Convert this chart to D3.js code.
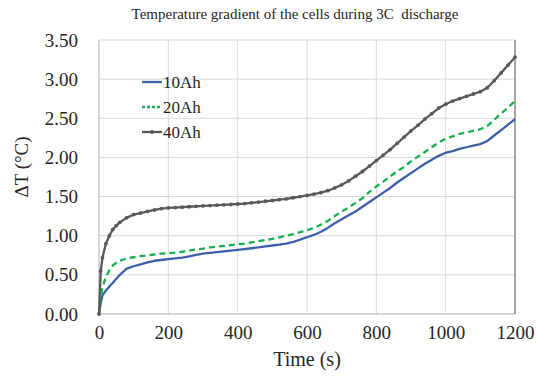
<!DOCTYPE html>
<html>
<head>
<meta charset="utf-8">
<script src="https://cdn.jsdelivr.net/npm/d3@7"></script>
<style>
  html, body { margin: 0; padding: 0; background: #fff; }
  svg { display: block; }
  text { font-family: "Liberation Serif", "DejaVu Serif", serif; fill: #262626; }
</style>
</head>
<body>
<svg id="chart" width="536" height="381"></svg>
<script>
// Time samples (s) shared by all three series
const times = [0, 5, 10, 20, 30, 40, 50, 60,
  80, 100, 120, 140, 160, 180, 200, 220, 240, 260, 280, 300,
  320, 340, 360, 380, 400, 420, 440, 460, 480, 500,
  520, 540, 560, 580, 600, 620, 640, 660, 680, 700,
  720, 740, 760, 780, 800, 820, 840, 860, 880, 900,
  920, 940, 960, 980, 1000, 1020, 1040, 1060, 1080, 1100,
  1120, 1140, 1160, 1180, 1200];

// Temperature gradient ΔT (°C) per cell capacity
const dT10 = [0, 0.14, 0.24, 0.30, 0.35, 0.40, 0.45, 0.50,
  0.58, 0.61, 0.635, 0.66, 0.68, 0.69, 0.70, 0.71, 0.72, 0.735, 0.755, 0.77,
  0.78, 0.79, 0.80, 0.81, 0.82, 0.83, 0.84, 0.85, 0.865, 0.875,
  0.885, 0.90, 0.92, 0.95, 0.98, 1.01, 1.05, 1.10, 1.16, 1.21,
  1.26, 1.31, 1.37, 1.43, 1.49, 1.55, 1.61, 1.68, 1.74, 1.80,
  1.86, 1.92, 1.97, 2.02, 2.06, 2.08, 2.11, 2.13, 2.15, 2.17,
  2.21, 2.28, 2.35, 2.42, 2.49];

const dT20 = [0, 0.22, 0.34, 0.47, 0.56, 0.62, 0.655, 0.68,
  0.71, 0.725, 0.74, 0.75, 0.76, 0.77, 0.775, 0.785, 0.795, 0.81, 0.825, 0.835,
  0.85, 0.86, 0.87, 0.88, 0.89, 0.90, 0.915, 0.93, 0.945, 0.96,
  0.98, 1.00, 1.02, 1.045, 1.07, 1.10, 1.14, 1.19, 1.25, 1.31,
  1.36, 1.42, 1.48, 1.56, 1.63, 1.69, 1.76, 1.82, 1.88, 1.95,
  2.01, 2.07, 2.13, 2.19, 2.24, 2.27, 2.30, 2.32, 2.34, 2.36,
  2.40, 2.48, 2.56, 2.64, 2.72];

const dT40 = [0, 0.55, 0.72, 0.90, 1.00, 1.08, 1.13, 1.17,
  1.23, 1.27, 1.29, 1.31, 1.33, 1.345, 1.355, 1.36, 1.365, 1.37, 1.375, 1.38,
  1.385, 1.39, 1.395, 1.40, 1.405, 1.41, 1.42, 1.43, 1.44, 1.45,
  1.46, 1.47, 1.485, 1.50, 1.515, 1.53, 1.55, 1.575, 1.61, 1.65,
  1.70, 1.76, 1.82, 1.89, 1.96, 2.03, 2.10, 2.18, 2.26, 2.34,
  2.41, 2.49, 2.56, 2.63, 2.68, 2.72, 2.75, 2.78, 2.81, 2.84,
  2.89, 2.98, 3.08, 3.18, 3.28];

const seriesNames = ["10Ah", "20Ah", "40Ah"];
const xTicks = [0, 200, 400, 600, 800, 1000, 1200];
const yTicks = [0, 0.5, 1.0, 1.5, 2.0, 2.5, 3.0, 3.5];

const series = [
  { name: seriesNames[0], values: dT10, color: "#3d5ea8", dash: null, markers: false },
  { name: seriesNames[1], values: dT20, color: "#16b050", dash: "6,4", markers: false },
  { name: seriesNames[2], values: dT40, color: "#595959", dash: null, markers: true }
];

const svg = d3.select("#chart");
const plot = { left: 99, right: 515, top: 40, bottom: 314 };

const x = d3.scaleLinear().domain([0, 1200]).range([plot.left, plot.right]);
const y = d3.scaleLinear().domain([0, 3.5]).range([plot.bottom, plot.top]);

// Title
svg.append("text")
  .attr("x", 295).attr("y", 19)
  .attr("text-anchor", "middle")
  .style("font-size", "15px")
  .style("white-space", "pre")
  .text("Temperature gradient of the cells during 3C  discharge");

// Gridlines
const grid = svg.append("g");
grid.selectAll("line.h").data(yTicks).join("line")
  .attr("x1", plot.left).attr("x2", plot.right)
  .attr("y1", d => y(d)).attr("y2", d => y(d))
  .attr("stroke", "#d9d9d9").attr("stroke-width", 1);
grid.selectAll("line.v").data(xTicks).join("line")
  .attr("x1", d => x(d)).attr("x2", d => x(d))
  .attr("y1", plot.top).attr("y2", plot.bottom)
  .attr("stroke", "#d9d9d9").attr("stroke-width", 1);

// Plot frame
svg.append("line").attr("x1", plot.left).attr("x2", plot.left)
  .attr("y1", plot.top).attr("y2", plot.bottom).attr("stroke", "#bfbfbf");
svg.append("line").attr("x1", plot.left).attr("x2", plot.right)
  .attr("y1", plot.bottom).attr("y2", plot.bottom).attr("stroke", "#bfbfbf").attr("stroke-width", 1.2);
svg.append("line").attr("x1", plot.right).attr("x2", plot.right)
  .attr("y1", plot.top).attr("y2", plot.bottom).attr("stroke", "#8c8c8c").attr("stroke-width", 1.5);

// Axes
const xAxis = svg.append("g")
  .attr("transform", `translate(0,${plot.bottom})`)
  .call(d3.axisBottom(x).tickValues(xTicks).tickFormat(d3.format("d")).tickSize(0).tickPadding(12));
xAxis.select(".domain").remove();
xAxis.selectAll("text").style("font-size", "19px").style("font-family", "Liberation Serif").attr("fill", "#262626");

const yAxis = svg.append("g")
  .attr("transform", `translate(${plot.left},0)`)
  .call(d3.axisLeft(y).tickValues(yTicks).tickFormat(d3.format(".2f")).tickSize(0).tickPadding(21));
yAxis.select(".domain").remove();
yAxis.selectAll("text").style("font-size", "19px").style("font-family", "Liberation Serif").attr("fill", "#262626");

// Axis titles
svg.append("text")
  .attr("x", 307).attr("y", 366)
  .attr("text-anchor", "middle")
  .style("font-size", "20px")
  .text("Time (s)");
svg.append("text")
  .attr("transform", "translate(28,167) rotate(-90)")
  .attr("text-anchor", "middle")
  .style("font-size", "19px")
  .text("ΔT (°C)");

// Series lines
const line = d3.line()
  .x((d, i) => x(times[i]))
  .y(d => y(d));

series.forEach(s => {
  svg.append("path")
    .datum(s.values)
    .attr("fill", "none")
    .attr("stroke", s.color)
    .attr("stroke-width", 2.3)
    .attr("stroke-linejoin", "round")
    .attr("stroke-dasharray", s.dash)
    .attr("d", line);
  if (s.markers) {
    svg.append("g").selectAll("circle").data(s.values).join("circle")
      .attr("cx", (d, i) => x(times[i]))
      .attr("cy", d => y(d))
      .attr("r", 1.9)
      .attr("fill", s.color);
  }
});

// Legend
const legend = svg.append("g");
series.forEach((s, i) => {
  const ly = 82 + i * 25;
  legend.append("line")
    .attr("x1", 142).attr("x2", 162)
    .attr("y1", ly).attr("y2", ly)
    .attr("stroke", s.color).attr("stroke-width", 2.3)
    .attr("stroke-dasharray", s.dash ? "3,2" : null);
  if (s.markers) {
    legend.append("circle").attr("cx", 152).attr("cy", ly).attr("r", 1.9).attr("fill", s.color);
  }
  legend.append("text")
    .attr("x", 163).attr("y", ly + 6)
    .style("font-size", "17px")
    .text(s.name);
});
</script>
</body>
</html>
